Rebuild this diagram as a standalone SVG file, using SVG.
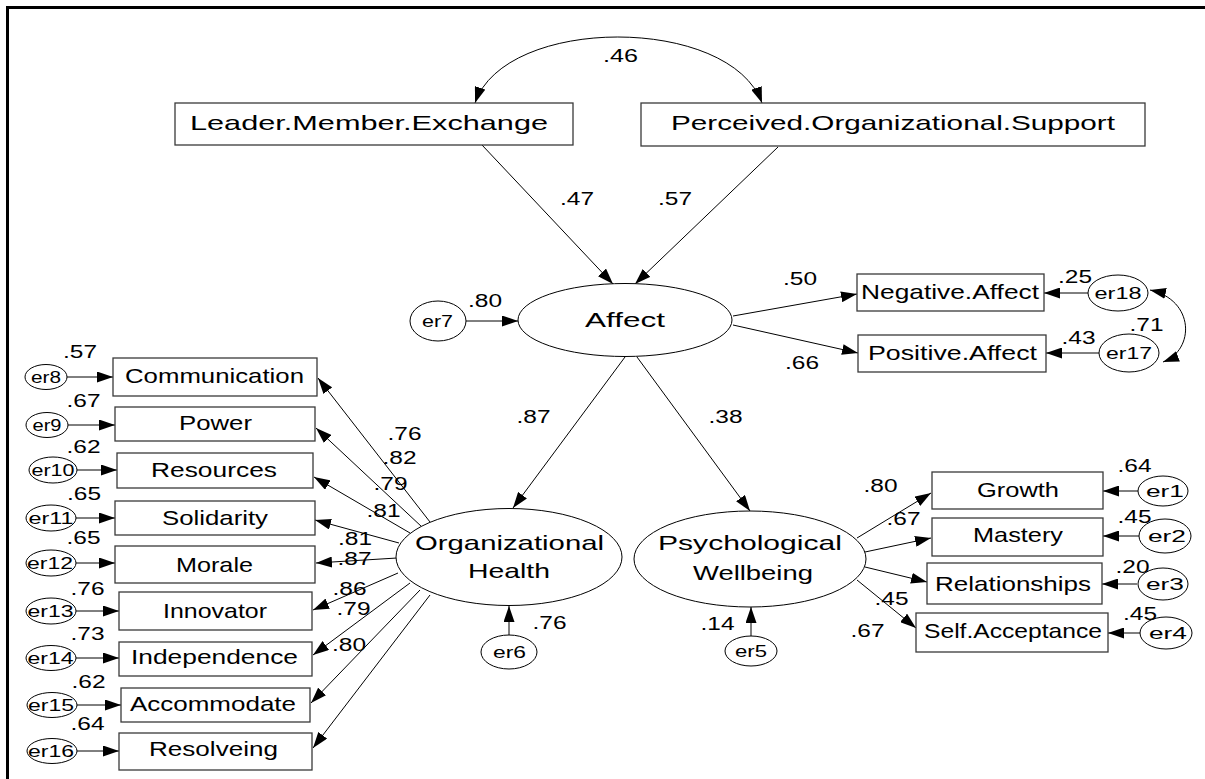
<svg xmlns="http://www.w3.org/2000/svg" width="1205" height="779" viewBox="0 0 1205 779">
<style>
.box{fill:#fff;stroke:#3a3a3a;stroke-width:1.3}
.el{fill:#fff;stroke:#000;stroke-width:1}
.t{font-family:"Liberation Sans",Arial,sans-serif;font-size:21px;text-anchor:middle;fill:#000}
.e{font-size:17px}
.n{font-family:"Liberation Sans",Arial,sans-serif;font-size:18px;text-anchor:middle;fill:#000}
.c{fill:none;stroke:#000;stroke-width:1;marker-end:url(#ah)}
.d{fill:none;stroke:#000;stroke-width:1;marker-start:url(#ah);marker-end:url(#ah)}
</style>
<defs>
<marker id="ah" markerUnits="userSpaceOnUse" markerWidth="16" markerHeight="11" refX="16" refY="5.5" orient="auto-start-reverse">
<path d="M0,0 L16,5.5 L0,11 z" fill="#000"/>
</marker>
</defs>
<rect width="1205" height="779" fill="#fff"/>
<path d="M7.5,779 V7.5 H1205" fill="none" stroke="#000" stroke-width="3"/>

<g id="connectors">
<path class="d" d="M475,103 C505,15 730,15 762,103"/>
<line class="c" x1="482" y1="145" x2="613" y2="284"/>
<line class="c" x1="778" y1="147" x2="635" y2="284"/>
<line class="c" x1="466" y1="321" x2="518" y2="321"/>
<line class="c" x1="733" y1="316" x2="857" y2="294"/>
<line class="c" x1="733" y1="325" x2="858" y2="353"/>
<line class="c" x1="1088" y1="293" x2="1044" y2="293"/>
<line class="c" x1="1099" y1="353" x2="1046" y2="353"/>
<path class="d" d="M1150,290 C1195,300 1195,350 1163,362"/>
<line class="c" x1="625" y1="357" x2="513" y2="508"/>
<line class="c" x1="637" y1="357" x2="750" y2="511"/>
<line class="c" x1="509" y1="635" x2="509" y2="606"/>
<line class="c" x1="751" y1="636" x2="751" y2="607"/>
<line class="c" x1="857" y1="538" x2="931" y2="493"/>
<line class="c" x1="865" y1="552" x2="931" y2="538"/>
<line class="c" x1="865" y1="567" x2="927" y2="582"/>
<line class="c" x1="857" y1="580" x2="916" y2="628"/>
<line class="c" x1="1138" y1="491" x2="1103" y2="491"/>
<line class="c" x1="1139" y1="536" x2="1103" y2="536"/>
<line class="c" x1="1137" y1="584" x2="1102" y2="584"/>
<line class="c" x1="1141" y1="633" x2="1108" y2="633"/>
<line class="c" x1="430" y1="522" x2="318" y2="378"/>
<line class="c" x1="422" y1="527" x2="316" y2="428"/>
<line class="c" x1="410" y1="533" x2="314" y2="477"/>
<line class="c" x1="399" y1="543" x2="315" y2="520"/>
<line class="c" x1="397" y1="558" x2="316" y2="563"/>
<line class="c" x1="398" y1="573" x2="313" y2="610"/>
<line class="c" x1="410" y1="583" x2="313" y2="655"/>
<line class="c" x1="420" y1="590" x2="311" y2="703"/>
<line class="c" x1="430" y1="595" x2="313" y2="748"/>
<line class="c" x1="67" y1="377" x2="113" y2="377"/>
<line class="c" x1="68" y1="425" x2="115" y2="425"/>
<line class="c" x1="77" y1="470" x2="117" y2="470"/>
<line class="c" x1="76" y1="518" x2="115" y2="518"/>
<line class="c" x1="76" y1="563" x2="115" y2="563"/>
<line class="c" x1="76" y1="611" x2="119" y2="611"/>
<line class="c" x1="76" y1="658" x2="119" y2="658"/>
<line class="c" x1="77" y1="705" x2="121" y2="705"/>
<line class="c" x1="77" y1="751" x2="119" y2="751"/>
</g>

<g id="lmx"><rect class="box" x="175" y="103" width="398" height="42"/><text class="t" x="369" y="130" textLength="358" lengthAdjust="spacingAndGlyphs">Leader.Member.Exchange</text></g>
<g id="pos"><rect class="box" x="641" y="103" width="504" height="43"/><text class="t" x="893" y="130" textLength="444" lengthAdjust="spacingAndGlyphs">Perceived.Organizational.Support</text></g>
<g id="affect"><ellipse class="el" cx="625" cy="320" rx="107" ry="36.5"/><text class="t" x="625" y="327" textLength="80" lengthAdjust="spacingAndGlyphs">Affect</text></g>
<g id="er7"><ellipse class="el" cx="438" cy="321" rx="28" ry="20"/><text class="t e" x="437.5" y="327" textLength="31" lengthAdjust="spacingAndGlyphs">er7</text></g>
<g id="negaff"><rect class="box" x="857" y="274" width="187" height="37"/><text class="t" x="950" y="299" textLength="178" lengthAdjust="spacingAndGlyphs">Negative.Affect</text></g>
<g id="posaff"><rect class="box" x="858" y="335" width="188" height="37"/><text class="t" x="952.5" y="360" textLength="169" lengthAdjust="spacingAndGlyphs">Positive.Affect</text></g>
<g id="er18"><ellipse class="el" cx="1118" cy="293" rx="30" ry="18"/><text class="t e" x="1118" y="299" textLength="47" lengthAdjust="spacingAndGlyphs">er18</text></g>
<g id="er17"><ellipse class="el" cx="1129" cy="353" rx="30" ry="19"/><text class="t e" x="1129" y="359" textLength="46" lengthAdjust="spacingAndGlyphs">er17</text></g>

<g id="orghealth"><ellipse class="el" cx="509" cy="557" rx="113" ry="48.5"/><text class="t" x="509.5" y="550" textLength="189" lengthAdjust="spacingAndGlyphs">Organizational</text><text class="t" x="509" y="578" textLength="82" lengthAdjust="spacingAndGlyphs">Health</text></g>
<g id="er6"><ellipse class="el" cx="509" cy="652" rx="28" ry="17"/><text class="t e" x="509.5" y="658" textLength="33" lengthAdjust="spacingAndGlyphs">er6</text></g>
<g id="psych"><ellipse class="el" cx="750" cy="559" rx="116" ry="48"/><text class="t" x="750" y="550" textLength="184" lengthAdjust="spacingAndGlyphs">Psychological</text><text class="t" x="753" y="580" textLength="120" lengthAdjust="spacingAndGlyphs">Wellbeing</text></g>
<g id="er5"><ellipse class="el" cx="751" cy="651" rx="26" ry="15"/><text class="t e" x="751" y="657" textLength="32" lengthAdjust="spacingAndGlyphs">er5</text></g>

<g id="growth"><rect class="box" x="932" y="472" width="171" height="37"/><text class="t" x="1018" y="497" textLength="82" lengthAdjust="spacingAndGlyphs">Growth</text></g>
<g id="mastery"><rect class="box" x="932" y="518" width="171" height="38"/><text class="t" x="1018" y="542" textLength="90" lengthAdjust="spacingAndGlyphs">Mastery</text></g>
<g id="relationships"><rect class="box" x="927" y="563" width="175" height="41"/><text class="t" x="1013" y="591" textLength="156" lengthAdjust="spacingAndGlyphs">Relationships</text></g>
<g id="selfacc"><rect class="box" x="916" y="613" width="192" height="39"/><text class="t" x="1013" y="638" textLength="178" lengthAdjust="spacingAndGlyphs">Self.Acceptance</text></g>
<g id="er1"><ellipse class="el" cx="1163" cy="491" rx="25" ry="15"/><text class="t e" x="1165" y="497" textLength="38" lengthAdjust="spacingAndGlyphs">er1</text></g>
<g id="er2"><ellipse class="el" cx="1165" cy="536" rx="26" ry="17"/><text class="t e" x="1167" y="542" textLength="38" lengthAdjust="spacingAndGlyphs">er2</text></g>
<g id="er3"><ellipse class="el" cx="1163" cy="584" rx="25" ry="16"/><text class="t e" x="1165" y="590" textLength="38" lengthAdjust="spacingAndGlyphs">er3</text></g>
<g id="er4"><ellipse class="el" cx="1166" cy="633" rx="26" ry="16"/><text class="t e" x="1168" y="639" textLength="38" lengthAdjust="spacingAndGlyphs">er4</text></g>

<g id="communication"><rect class="box" x="113" y="358" width="204" height="38"/><text class="t" x="214.5" y="383" textLength="179" lengthAdjust="spacingAndGlyphs">Communication</text></g>
<g id="power"><rect class="box" x="115" y="407" width="200" height="34"/><text class="t" x="215.5" y="430" textLength="73" lengthAdjust="spacingAndGlyphs">Power</text></g>
<g id="resources"><rect class="box" x="117" y="453" width="196" height="35"/><text class="t" x="214" y="477" textLength="126" lengthAdjust="spacingAndGlyphs">Resources</text></g>
<g id="solidarity"><rect class="box" x="115" y="501" width="200" height="34"/><text class="t" x="215" y="525" textLength="106" lengthAdjust="spacingAndGlyphs">Solidarity</text></g>
<g id="morale"><rect class="box" x="115" y="546" width="200" height="37"/><text class="t" x="214.5" y="572" textLength="77" lengthAdjust="spacingAndGlyphs">Morale</text></g>
<g id="innovator"><rect class="box" x="119" y="592" width="193" height="38"/><text class="t" x="215" y="618" textLength="104" lengthAdjust="spacingAndGlyphs">Innovator</text></g>
<g id="independence"><rect class="box" x="119" y="642" width="193" height="34"/><text class="t" x="214.5" y="664" textLength="167" lengthAdjust="spacingAndGlyphs">Independence</text></g>
<g id="accommodate"><rect class="box" x="121" y="688" width="189" height="34"/><text class="t" x="213" y="711" textLength="166" lengthAdjust="spacingAndGlyphs">Accommodate</text></g>
<g id="resolveing"><rect class="box" x="119" y="733" width="193" height="37"/><text class="t" x="213.5" y="756" textLength="129" lengthAdjust="spacingAndGlyphs">Resolveing</text></g>
<g id="er8"><ellipse class="el" cx="46" cy="377" rx="21" ry="12.5"/><text class="t e" x="46" y="383" textLength="30" lengthAdjust="spacingAndGlyphs">er8</text></g>
<g id="er9"><ellipse class="el" cx="47" cy="425" rx="21" ry="12.5"/><text class="t e" x="47" y="431" textLength="29" lengthAdjust="spacingAndGlyphs">er9</text></g>
<g id="er10"><ellipse class="el" cx="53" cy="470" rx="24" ry="13"/><text class="t e" x="53" y="476" textLength="43" lengthAdjust="spacingAndGlyphs">er10</text></g>
<g id="er11"><ellipse class="el" cx="51" cy="518" rx="25" ry="13"/><text class="t e" x="51" y="524" textLength="45" lengthAdjust="spacingAndGlyphs">er11</text></g>
<g id="er12"><ellipse class="el" cx="51" cy="563" rx="25" ry="13"/><text class="t e" x="50" y="569" textLength="46" lengthAdjust="spacingAndGlyphs">er12</text></g>
<g id="er13"><ellipse class="el" cx="51" cy="611" rx="25" ry="13"/><text class="t e" x="50.5" y="617" textLength="46" lengthAdjust="spacingAndGlyphs">er13</text></g>
<g id="er14"><ellipse class="el" cx="51" cy="658" rx="25" ry="12.5"/><text class="t e" x="50.5" y="664" textLength="46" lengthAdjust="spacingAndGlyphs">er14</text></g>
<g id="er15"><ellipse class="el" cx="52" cy="705" rx="25" ry="12.5"/><text class="t e" x="51" y="711" textLength="46" lengthAdjust="spacingAndGlyphs">er15</text></g>
<g id="er16"><ellipse class="el" cx="52" cy="751" rx="25" ry="12.5"/><text class="t e" x="51" y="757" textLength="46" lengthAdjust="spacingAndGlyphs">er16</text></g>

<g id="coefficients">
<text class="n" x="620.5" y="62" textLength="35" lengthAdjust="spacingAndGlyphs">.46</text>
<text class="n" x="577" y="205" textLength="34" lengthAdjust="spacingAndGlyphs">.47</text>
<text class="n" x="675" y="205" textLength="34" lengthAdjust="spacingAndGlyphs">.57</text>
<text class="n" x="485" y="307" textLength="34" lengthAdjust="spacingAndGlyphs">.80</text>
<text class="n" x="800" y="285" textLength="34" lengthAdjust="spacingAndGlyphs">.50</text>
<text class="n" x="802" y="369" textLength="34" lengthAdjust="spacingAndGlyphs">.66</text>
<text class="n" x="1075" y="283" textLength="34" lengthAdjust="spacingAndGlyphs">.25</text>
<text class="n" x="1078.5" y="344" textLength="34" lengthAdjust="spacingAndGlyphs">.43</text>
<text class="n" x="1146.5" y="331" textLength="34" lengthAdjust="spacingAndGlyphs">.71</text>
<text class="n" x="533.5" y="423" textLength="34" lengthAdjust="spacingAndGlyphs">.87</text>
<text class="n" x="725.5" y="423" textLength="34" lengthAdjust="spacingAndGlyphs">.38</text>
<text class="n" x="549.5" y="629" textLength="34" lengthAdjust="spacingAndGlyphs">.76</text>
<text class="n" x="717.5" y="630" textLength="34" lengthAdjust="spacingAndGlyphs">.14</text>
<text class="n" x="880.5" y="492" textLength="34" lengthAdjust="spacingAndGlyphs">.80</text>
<text class="n" x="903.5" y="525" textLength="34" lengthAdjust="spacingAndGlyphs">.67</text>
<text class="n" x="891.5" y="605" textLength="34" lengthAdjust="spacingAndGlyphs">.45</text>
<text class="n" x="867.5" y="637" textLength="34" lengthAdjust="spacingAndGlyphs">.67</text>
<text class="n" x="1134.5" y="472" textLength="34" lengthAdjust="spacingAndGlyphs">.64</text>
<text class="n" x="1134.5" y="523" textLength="34" lengthAdjust="spacingAndGlyphs">.45</text>
<text class="n" x="1132.5" y="573" textLength="34" lengthAdjust="spacingAndGlyphs">.20</text>
<text class="n" x="1140" y="620" textLength="34" lengthAdjust="spacingAndGlyphs">.45</text>
<text class="n" x="80" y="358" textLength="34" lengthAdjust="spacingAndGlyphs">.57</text>
<text class="n" x="83.5" y="407" textLength="34" lengthAdjust="spacingAndGlyphs">.67</text>
<text class="n" x="83.5" y="453" textLength="34" lengthAdjust="spacingAndGlyphs">.62</text>
<text class="n" x="84" y="500" textLength="34" lengthAdjust="spacingAndGlyphs">.65</text>
<text class="n" x="83.5" y="544" textLength="34" lengthAdjust="spacingAndGlyphs">.65</text>
<text class="n" x="87.5" y="595" textLength="34" lengthAdjust="spacingAndGlyphs">.76</text>
<text class="n" x="87.5" y="640" textLength="34" lengthAdjust="spacingAndGlyphs">.73</text>
<text class="n" x="88.5" y="688" textLength="34" lengthAdjust="spacingAndGlyphs">.62</text>
<text class="n" x="87.5" y="730" textLength="34" lengthAdjust="spacingAndGlyphs">.64</text>
<text class="n" x="404.5" y="440" textLength="34" lengthAdjust="spacingAndGlyphs">.76</text>
<text class="n" x="399.5" y="464" textLength="34" lengthAdjust="spacingAndGlyphs">.82</text>
<text class="n" x="390.5" y="490" textLength="34" lengthAdjust="spacingAndGlyphs">.79</text>
<text class="n" x="383.5" y="517" textLength="34" lengthAdjust="spacingAndGlyphs">.81</text>
<text class="n" x="355" y="545" textLength="34" lengthAdjust="spacingAndGlyphs">.81</text>
<text class="n" x="354.5" y="565" textLength="34" lengthAdjust="spacingAndGlyphs">.87</text>
<text class="n" x="349.5" y="595" textLength="34" lengthAdjust="spacingAndGlyphs">.86</text>
<text class="n" x="353.5" y="615" textLength="34" lengthAdjust="spacingAndGlyphs">.79</text>
<text class="n" x="349" y="651" textLength="34" lengthAdjust="spacingAndGlyphs">.80</text>
</g>
</svg>
